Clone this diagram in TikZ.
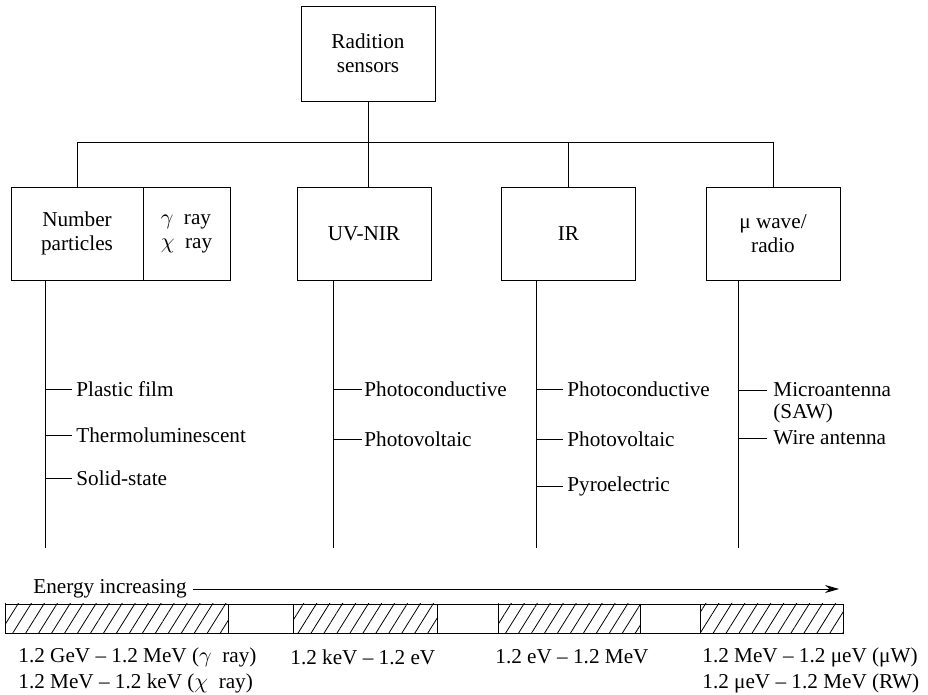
\documentclass[tikz,border=0pt]{standalone}
\usepackage{fontspec}
\setmainfont{Liberation Serif}
\usetikzlibrary{arrows.meta,positioning,patterns.meta}
\tikzset{
>={Stealth[length=7pt,width=4pt]},
  sensbox/.style={
    rectangle,
    draw=black, thin,
    minimum width=67pt,
    minimum height=46.5pt,
    outer sep=0pt,
    align=center},
  hatched/.style={pattern={Lines[angle=58,distance=5.5pt,line width=0.4pt]}},
}

\begin{document}
\begin{tikzpicture}[
    x=0.5pt, y=-0.5pt,
    every node/.style={font=\fontsize{10.6}{11.8}\selectfont},
    item/.style={anchor=west, inner sep=2pt},
    band/.style={anchor=west, inner sep=0pt},
    stem/.style={thin}
    ]
	\useasboundingbox (0,0) rectangle (928,695);

	% the boxes
	\node[sensbox, minimum height=47.5pt] (top) at (368,53.5) {Radition\\sensors};
	\node[sensbox, minimum width=66pt] (num) at (77,233.5) {Number\\particles};
	\node[sensbox, minimum width=43.5pt, right=0pt of num, align=left] (ray)
	  {$\gamma$\enspace ray\\$\chi$\enspace ray};
	\node[sensbox] (uv) at (364,233.5) {UV-NIR};
	\node[sensbox] (ir) at (568.5,233.5) {IR};
	\node[sensbox] (mw) at (773,233.5) {μ wave/\\radio};

	% the bus joining them
	\coordinate (bus) at (0,142);
	\draw (top.south) -- (top.south |- uv.north);
	\draw (num.north) -- (num.north |- bus) -- (mw.north |- bus) -- (mw.north);
	\draw (ir.north |- bus) -- (ir.north);

	% stems under the boxes
	\coordinate (numend) at (45,548);
	\coordinate (uvend) at (333,548);
	\coordinate (irend) at (536,548);
	\coordinate (mwend) at (738,548);
	\draw[stem] (numend |- num.south) -- (numend);
	\draw[stem] (uvend |- uv.south) -- (uvend);
	\draw[stem] (irend |- ir.south) -- (irend);
	\draw[stem] (mwend |- mw.south) -- (mwend);

	\node[item] (plastic) at (72,389) {Plastic film};
	\node[item] (thermo) at (72,435) {Thermoluminescent};
	\node[item] (solid) at (72,478) {Solid-state};
	\draw[stem] (numend |- plastic.west) -- (plastic.west);
	\draw[stem] (numend |- thermo.west) -- (thermo.west);
	\draw[stem] (numend |- solid.west) -- (solid.west);

	\node[item, inner sep=1pt] (uvcond) at (362,389) {Photoconductive};
	\node[item, inner sep=1pt] (uvvolt) at (362,439) {Photovoltaic};
	\draw[stem] (uvend |- uvcond.west) -- (uvcond.west);
	\draw[stem] (uvend |- uvvolt.west) -- (uvvolt.west);

	\node[item] (ircond) at (563,389) {Photoconductive};
	\node[item] (irvolt) at (563,439) {Photovoltaic};
	\node[item] (pyro) at (563,486) {Pyroelectric};
	\draw[stem] (irend |- ircond.west) -- (ircond.west);
	\draw[stem] (irend |- irvolt.west) -- (irvolt.west);
	\draw[stem] (irend |- pyro.west) -- (pyro.west);

	\node[item, inner sep=3pt] (micro) at (767,390) {Microantenna};
	\node[item, inner sep=3pt] (saw) at (767,413) {(SAW)};
	\node[item, inner sep=3pt] (wire) at (767,438) {Wire antenna};
	\draw[stem] (mwend |- micro.west) -- (micro.west);
	\draw[stem] (mwend |- wire.west) -- (wire.west);

	% energy scale
	\node[band, inner sep=3pt] (energy) at (27,589) {Energy increasing};
	\coordinate (arrowend) at (839,589);
	\draw[->] (energy.east) -- (arrowend);

	\draw[hatched] (5,604) rectangle (228,633);
	\draw[hatched] (293,604) rectangle (437,633);
	\draw[hatched] (498,604) rectangle (640,633);
	\draw[hatched] (700,604) rectangle (843,633);
	\draw (5,604) rectangle (843,633);

	\node[band] (gev) at (18,657) {1.2 GeV -- 1.2 MeV ($\gamma$\enspace ray)};
	\node[band] (mev) at (18,683) {1.2 MeV -- 1.2 keV ($\chi$\enspace ray)};
	\node[band] (kev) at (290,657) {1.2 keV -- 1.2 eV};
	\node[band] (ev) at (495,657) {1.2 eV -- 1.2 MeV};
	\node[band] (uw) at (702,657) {1.2 MeV -- 1.2 μeV (μW)};
	\node[band] (rw) at (702,683) {1.2 μeV -- 1.2 MeV (RW)};

\end{tikzpicture}
\end{document}
